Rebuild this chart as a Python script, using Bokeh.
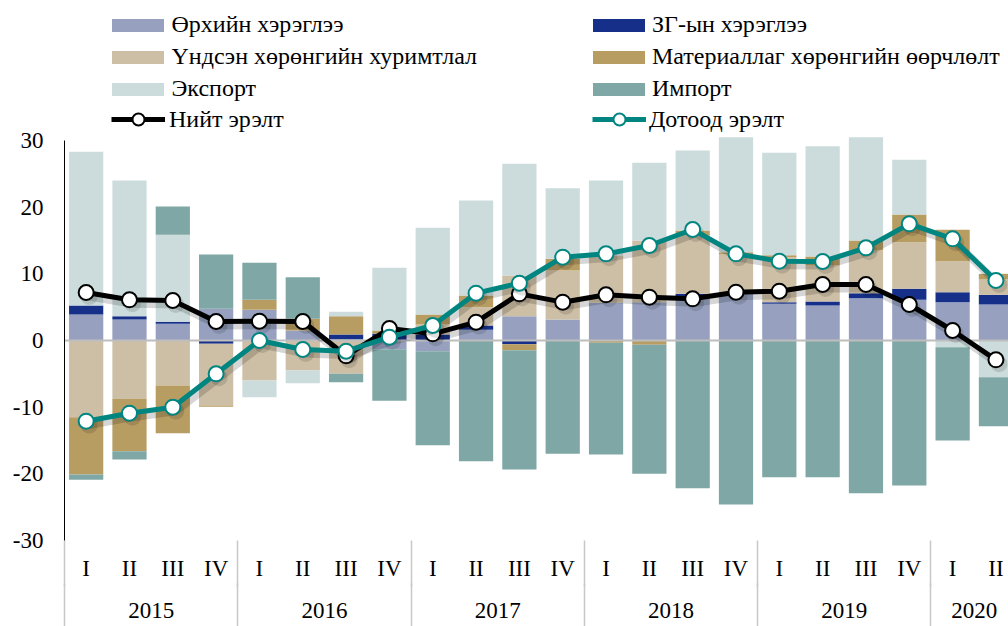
import numpy as np
from bokeh.plotting import figure
from bokeh.models import (ColumnDataSource, FixedTicker, LinearAxis, Legend,
                          LegendItem, Range1d)
from bokeh.embed import file_html
from bokeh.resources import INLINE

# ---------------- data ----------------
quarters = ["I", "II", "III", "IV"] * 5 + ["I", "II"]
years = ["2015"] * 4 + ["2016"] * 4 + ["2017"] * 4 + ["2018"] * 4 + ["2019"] * 4 + ["2020"] * 2

household = [3.9, 3.15, 2.5, 4.75, 4.6, 1.5, 0.2, -1.3, -1.6, 1.6, 3.65, 3.15,
             5.65, 5.75, 6.5, 7.25, 5.5, 5.25, 6.35, 6.1, 5.75, 5.4]
government = [1.35, 0.5, 0.3, -0.5, 0.0, 0.0, 0.7, 1.0, 0.9, 0.65, -0.55, 0.0,
              0.0, 0.0, 0.5, 0.0, 0.25, 0.6, 0.75, 1.65, 1.5, 1.45]
fixed_capital = [-11.5, -8.75, -6.75, -9.25, -6.0, -4.5, -5.0, 0.0, 1.5, 2.75, 6.1, 7.35,
                 7.1, 9.25, 8.75, 5.65, 6.75, 5.4, 6.4, 7.0, 4.65, 2.3]
inventories = [-8.6, -7.85, -7.15, -0.2, 1.5, 1.75, 2.75, 0.5, 1.5, 1.75, -0.9, 1.75,
               -0.35, -0.65, 0.75, 0.35, 0.3, 1.35, 1.5, 4.15, 4.7, 0.85]
exports = [23.05, 20.35, 13.05, 0.0, -2.5, -1.9, 0.65, 9.4, 13.0, 14.25, 16.75, 10.6,
           11.25, 11.65, 12.0, 17.25, 15.35, 16.55, 15.5, 8.2, -1.0, -5.5]
imports = [-0.8, -1.25, 4.25, 8.15, 5.55, 6.25, -1.25, -7.75, -14.1, -18.1, -17.9, -17.0,
           -16.75, -19.35, -22.15, -24.6, -20.5, -20.5, -22.9, -21.75, -14.0, -7.35]
total_demand = [7.2, 6.1, 6.0, 2.85, 2.9, 2.85, -2.3, 1.8, 1.0, 2.75, 7.0, 5.75,
                6.85, 6.5, 6.25, 7.25, 7.4, 8.4, 8.4, 5.4, 1.5, -2.9]
domestic_demand = [-12.1, -10.9, -10.0, -5.0, 0.0, -1.35, -1.6, 0.5, 2.25, 7.1, 8.6, 12.5,
                   13.0, 14.25, 16.65, 13.0, 11.9, 11.85, 13.9, 17.5, 15.25, 9.0]

bar_names = ["Өрхийн хэрэглээ", "ЗГ-ын хэрэглээ", "Үндсэн хөрөнгийн хуримтлал",
             "Материаллаг хөрөнгийн өөрчлөлт", "Экспорт", "Импорт"]
bar_colors = ["#97A1BF", "#16308A", "#CDBFA5", "#B89D63", "#CCDCDC", "#7EA7A5"]
line_names = ["Нийт эрэлт", "Дотоод эрэлт"]
line_colors = ["#000000", "#008580"]

y_ticks = [-30, -20, -10, 0, 10, 20, 30]
y_tick_labels = ["-30", "-20", "-10", "0", "10", "20", "30"]

FONT = "Liberation Serif, serif"
AXIS_FSIZE = "23px"
LEG_FSIZE = "24px"

# ---------------- figure ----------------
n = len(quarters)
x = np.arange(n)

X_START, X_END = -0.5, 21.29
Y_START, Y_END = -30, 51.0
W, H = 1008, 626
LEFT, BOTTOM = 64, 86

p = figure(width=W, height=H, output_backend="svg", toolbar_location=None,
           x_range=Range1d(X_START, X_END), y_range=Range1d(Y_START, Y_END),
           x_axis_type=None, y_axis_type=None,
           min_border_left=LEFT, min_border_right=0, min_border_top=0,
           min_border_bottom=BOTTOM)
p.outline_line_color = None
p.background_fill_color = "white"
p.border_fill_color = "white"

# stacked bars (positive up, negative down)
pos = np.zeros(n)
neg = np.zeros(n)
bar_renderers = []
for vals, color in zip([household, government, fixed_capital, inventories, exports, imports], bar_colors):
    v = np.array(vals, dtype=float)
    bottom = np.where(v >= 0, pos, neg)
    top = bottom + v
    pos = np.where(v >= 0, top, pos)
    neg = np.where(v < 0, top, neg)
    src = ColumnDataSource(dict(x=x, bottom=bottom, top=top))
    r = p.vbar(x="x", bottom="bottom", top="top", width=0.79, source=src,
               fill_color=color, line_color=None)
    bar_renderers.append(r)

# zero line
p.hspan(y=[0], line_color="#BEBEBE", line_width=2)

# soft drop shadow offset (3 px right, 4 px down), converted to data units
px_x = (X_END - X_START) / (W - LEFT)
px_y = (Y_END - Y_START) / (H - BOTTOM)
dx, dy = 3 * px_x, -4 * px_y

# lines
lsrc = ColumnDataSource(dict(x=x, total=total_demand, dom=domestic_demand,
                             xs=x + dx,
                             total_s=np.array(total_demand) + dy,
                             dom_s=np.array(domestic_demand) + dy))
line_renderers = []
for col, color in zip(["total", "dom"], line_colors):
    p.line("xs", col + "_s", source=lsrc, line_color="#000000", line_alpha=0.16,
           line_width=8, line_join="round")
    p.scatter("xs", col + "_s", source=lsrc, marker="circle", size=17,
              fill_color="#000000", fill_alpha=0.12, line_color=None)
    l = p.line("x", col, source=lsrc, line_color=color, line_width=5)
    s = p.scatter("x", col, source=lsrc, marker="circle", size=15,
                  fill_color="white", line_color=color, line_width=2)
    line_renderers.append((l, s))

# ---------------- axes ----------------
yax = LinearAxis(ticker=FixedTicker(ticks=y_ticks), bounds=(-30, 30),
                 major_label_overrides={t: s for t, s in zip(y_ticks, y_tick_labels)})
yax.axis_line_color = "black"
yax.axis_line_width = 1
yax.major_tick_out = 0
yax.major_tick_in = 0
yax.minor_tick_out = 0
yax.minor_tick_in = 0
yax.major_label_standoff = 21
yax.major_label_text_font = FONT
yax.major_label_text_font_size = AXIS_FSIZE
yax.major_label_text_color = "black"
p.add_layout(yax, "left")

# group boundaries
bounds = [-0.5] + [i - 0.5 for i in range(1, n) if years[i] != years[i - 1]]
uniq_years = []
for yv in years:
    if yv not in uniq_years:
        uniq_years.append(yv)
year_centers = [float(np.mean([i for i in range(n) if years[i] == yv])) for yv in uniq_years]

qax = LinearAxis(ticker=FixedTicker(ticks=[int(i) for i in x], minor_ticks=bounds),
                 major_label_overrides={int(i): q for i, q in enumerate(quarters)})
yrax = LinearAxis(ticker=FixedTicker(ticks=year_centers, minor_ticks=bounds),
                  major_label_overrides={c: yv for c, yv in zip(year_centers, uniq_years)})
for ax, so in ((qax, -31), (yrax, -27)):
    ax.axis_line_color = None
    ax.major_tick_line_color = None
    ax.major_tick_out = 0
    ax.major_tick_in = 0
    ax.minor_tick_line_color = "#C8C8C8"
    ax.minor_tick_line_width = 1.5
    ax.minor_tick_in = 0
    ax.minor_tick_out = 46
    ax.major_label_standoff = so
    ax.major_label_text_font = FONT
    ax.major_label_text_font_size = AXIS_FSIZE
    ax.major_label_text_color = "black"
    p.add_layout(ax, "below")

# ---------------- legends ----------------
def make_legend(items, loc, gw, gh, lh, standoff):
    lg = Legend(items=items, location=loc, orientation="vertical",
                glyph_width=gw, glyph_height=gh, label_height=lh,
                label_standoff=standoff, spacing=5, padding=0, margin=0,
                border_line_color=None, background_fill_alpha=0,
                label_text_font=FONT, label_text_font_size=LEG_FSIZE,
                label_text_color="black")
    p.add_layout(lg)
    return lg

make_legend([LegendItem(label=bar_names[i], renderers=[bar_renderers[i]]) for i in (0, 2, 4)],
            (40.5, 438), 65, 16, 27, 2)
make_legend([LegendItem(label=bar_names[i], renderers=[bar_renderers[i]]) for i in (1, 3, 5)],
            (522, 438), 65, 16, 27, 1)
make_legend([LegendItem(label=line_names[0], renderers=list(line_renderers[0]))],
            (47, 405.7), 54, 30, 30, 4)
make_legend([LegendItem(label=line_names[1], renderers=list(line_renderers[1]))],
            (528, 405.7), 54, 30, 30, 3)

open("out.html", "w").write(file_html(p, INLINE))
